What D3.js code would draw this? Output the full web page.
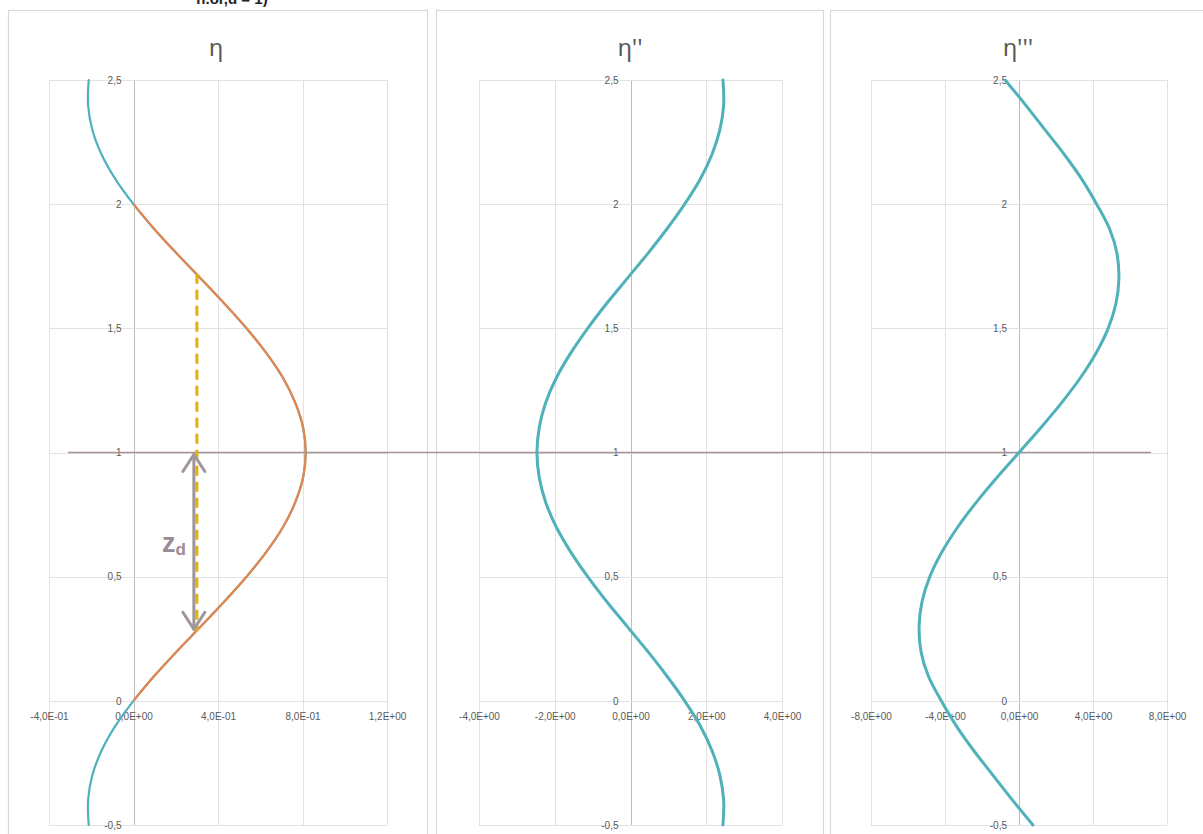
<!DOCTYPE html>
<html>
<head>
<meta charset="utf-8">
<script src="https://cdn.jsdelivr.net/npm/d3@7"></script>
<style>
  html, body { margin: 0; padding: 0; background: #ffffff; }
  svg { display: block; }
</style>
</head>
<body>
<svg id="chart" width="1203" height="834"></svg>
<script>
// ---------------- data ----------------
const zValues = [-0.5,-0.4,-0.3,-0.2,-0.1,0,0.1,0.2,0.3,0.4,0.5,0.6,0.7,0.8,0.9,1.0,
                 1.1,1.2,1.3,1.4,1.5,1.6,1.7,1.8,1.9,2.0,2.1,2.2,2.3,2.4,2.5];
const etaValues = [-0.212,-0.215,-0.195,-0.151,-0.085,0,0.098,0.206,0.319,0.430,0.535,0.629,0.708,0.766,0.803,0.815,
                   0.803,0.766,0.708,0.629,0.535,0.430,0.319,0.206,0.098,0,-0.085,-0.151,-0.195,-0.215,-0.212];
const eta2Values = [2.44,2.46,2.36,2.15,1.84,1.43,0.96,0.45,-0.09,-0.63,-1.13,-1.58,-1.96,-2.24,-2.41,-2.47,
                    -2.41,-2.24,-1.96,-1.58,-1.13,-0.63,-0.09,0.45,0.96,1.43,1.84,2.15,2.36,2.46,2.44];
const eta3Values = [0.75,-0.35,-1.40,-2.45,-3.40,-4.20,-4.90,-5.30,-5.40,-5.24,-4.82,-4.16,-3.31,-2.30,-1.18,0,
                    1.18,2.30,3.31,4.16,4.82,5.24,5.40,5.30,4.90,4.20,3.40,2.45,1.40,0.35,-0.75];
const orangeZRange = [0, 2];            // orange overlay of η between z = 0 and z = 2
const zdRange = [0.28, 1.72];           // dashed line extent
const zdEta = 0.3;                      // η at the dashed line
const zLine = 1;                        // horizontal reference line
const titles = ["η", "η''", "η'''"];
const yTicks = [-0.5,0,0.5,1,1.5,2,2.5];
const yTickLabels = ["-0,5","0","0,5","1","1,5","2","2,5"];
const xTicks1 = [-0.4,0,0.4,0.8,1.2];
const xTickLabels1 = ["-4,0E-01","0,0E+00","4,0E-01","8,0E-01","1,2E+00"];
const xTicks2 = [-4,-2,0,2,4];
const xTickLabels2 = ["-4,0E+00","-2,0E+00","0,0E+00","2,0E+00","4,0E+00"];
const xTicks3 = [-8,-4,0,4,8];
const xTickLabels3 = ["-8,0E+00","-4,0E+00","0,0E+00","4,0E+00","8,0E+00"];

// ---------------- layout ----------------
const svg = d3.select("#chart");
const C = { teal: "#4fb1b9", orange: "#e8844c", grid: "#e2e2e2", axis: "#bdbdbd",
            text: "#595959", border: "#d9d9d9", gold: "#e3b106", mauve: "#a0959a" };

const y = d3.scaleLinear().domain([-0.5, 2.5]).range([825, 80]);

const panels = [
  { box: [8, 427],   plot: [49, 387],   domain: [-0.4, 1.2], ticks: xTicks1, labels: xTickLabels1, series: etaValues,  width: 2.2, titleX: 216 },
  { box: [436, 823], plot: [479, 782],  domain: [-4, 4],     ticks: xTicks2, labels: xTickLabels2, series: eta2Values, width: 3,   titleX: 630 },
  { box: [830, 1215],plot: [871, 1167], domain: [-8, 8],     ticks: xTicks3, labels: xTickLabels3, series: eta3Values, width: 3,   titleX: 1018 }
];

// clipped heading at the very top
svg.append("text").attr("x", 232).attr("y", 4).attr("text-anchor", "middle")
  .attr("font-family", "Liberation Sans, Arial, sans-serif").attr("font-weight", "bold")
  .attr("font-size", 15).attr("fill", "#222").text("n.or,d = 1)");

panels.forEach((p, i) => {
  const g = svg.append("g");
  const x = d3.scaleLinear().domain(p.domain).range(p.plot);
  p.x = x;
  // panel border
  g.append("rect").attr("x", p.box[0] + 0.5).attr("y", 10.5)
    .attr("width", p.box[1] - p.box[0]).attr("height", 840)
    .attr("fill", "#fff").attr("stroke", C.border).attr("stroke-width", 1.2);
  // title
  g.append("text").attr("x", p.titleX).attr("y", 56).attr("text-anchor", "middle")
    .attr("font-family", "Noto Sans, DejaVu Sans, sans-serif").attr("font-size", 24)
    .attr("fill", C.text).text(titles[i]);
  // gridlines
  g.selectAll(".vg").data(p.ticks).join("line")
    .attr("x1", d => Math.round(x(d)) + 0.5).attr("x2", d => Math.round(x(d)) + 0.5)
    .attr("y1", y(2.5)).attr("y2", y(-0.5))
    .attr("stroke", d => d === 0 ? C.axis : C.grid).attr("stroke-width", 1);
  g.selectAll(".hg").data(yTicks).join("line")
    .attr("x1", p.plot[0]).attr("x2", p.plot[1])
    .attr("y1", d => Math.round(y(d)) + 0.5).attr("y2", d => Math.round(y(d)) + 0.5)
    .attr("stroke", C.grid).attr("stroke-width", 1);
  // x axis labels
  const xa = g.append("g").attr("transform", `translate(0,${y(0)})`)
    .call(d3.axisBottom(x).tickValues(p.ticks).tickSize(0).tickPadding(12)
      .tickFormat((d, j) => p.labels[j]));
  xa.select(".domain").remove();
  xa.selectAll("text").attr("font-family", "Liberation Sans, Arial, sans-serif")
    .attr("font-size", 10).attr("fill", C.text);
  // y axis labels
  const ya = g.append("g").attr("transform", `translate(${x(0)},0)`)
    .call(d3.axisLeft(y).tickValues(yTicks).tickSize(0).tickPadding(12)
      .tickFormat((d, j) => yTickLabels[j]));
  ya.select(".domain").remove();
  ya.selectAll("text").attr("font-family", "Liberation Sans, Arial, sans-serif")
    .attr("font-size", 10).attr("fill", C.text);
});

// horizontal reference line at z = 1
svg.append("line").attr("x1", 68).attr("x2", 1151)
  .attr("y1", y(zLine)).attr("y2", y(zLine))
  .attr("stroke", "#a3949b").attr("stroke-width", 1.4);

// curves
panels.forEach((p) => {
  const pts = zValues.map((z, k) => [p.series[k], z]);
  const line = d3.line().x(d => p.x(d[0])).y(d => y(d[1])).curve(d3.curveCatmullRom.alpha(0.5));
  svg.append("path").attr("d", line(pts)).attr("fill", "none")
    .attr("stroke", C.teal).attr("stroke-width", p.width).attr("stroke-linecap", "round");
});

// orange overlay on η between z = 0 and 2
{
  const p = panels[0];
  const pts = zValues.map((z, k) => [etaValues[k], z])
    .filter(d => d[1] >= orangeZRange[0] - 1e-9 && d[1] <= orangeZRange[1] + 1e-9);
  const line = d3.line().x(d => p.x(d[0])).y(d => y(d[1])).curve(d3.curveCatmullRom.alpha(0.5));
  svg.append("path").attr("d", line(pts)).attr("fill", "none")
    .attr("stroke", C.orange).attr("stroke-width", 2.2);

  // dashed gold line
  svg.append("line").attr("x1", p.x(zdEta)).attr("x2", p.x(zdEta))
    .attr("y1", y(zdRange[1])).attr("y2", y(zdRange[0]))
    .attr("stroke", C.gold).attr("stroke-width", 3).attr("stroke-dasharray", "10,6");

  // z_d double arrow
  const ax = p.x(zdEta) - 3;
  const yTop = y(zLine) + 2, yBot = y(zdRange[0]) - 2;
  const ag = svg.append("g").attr("stroke", C.mauve).attr("stroke-width", 3)
    .attr("fill", "none").attr("stroke-linecap", "round").attr("stroke-linejoin", "round");
  ag.append("line").attr("x1", ax).attr("x2", ax).attr("y1", yTop).attr("y2", yBot);
  ag.append("path").attr("d", `M${ax - 11},${yTop + 17} L${ax},${yTop} L${ax + 11},${yTop + 17}`);
  ag.append("path").attr("d", `M${ax - 11},${yBot - 17} L${ax},${yBot} L${ax + 11},${yBot - 17}`);

  const lbl = svg.append("text").attr("x", 162).attr("y", 552)
    .attr("font-family", "Liberation Sans, Arial, sans-serif").attr("font-weight", "bold")
    .attr("fill", "#9c8a94");
  lbl.append("tspan").attr("font-size", 27).text("z");
  lbl.append("tspan").attr("font-size", 17).attr("dy", 3).text("d");
}
</script>
</body>
</html>
